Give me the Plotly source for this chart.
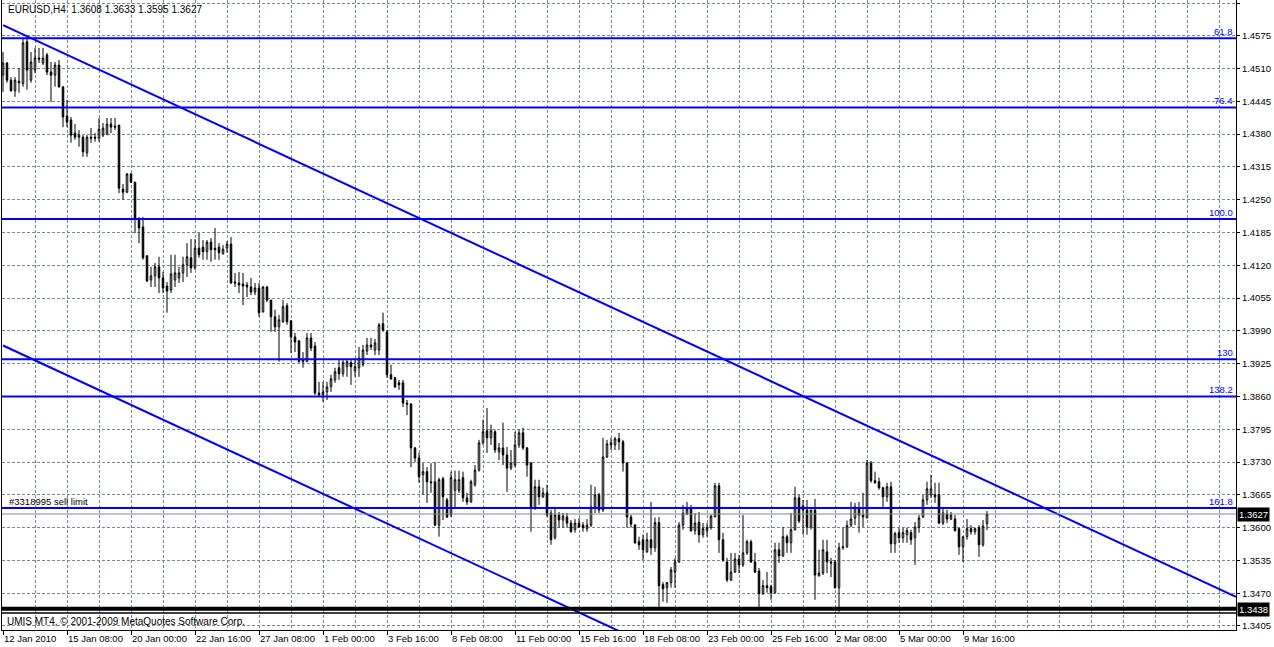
import plotly.graph_objects as go

# ---------------- data (EURUSD, H4) ----------------
opens = [1.4497,1.4521,1.4487,1.4466,1.4485,1.4480,1.4563,1.4487,1.4507,1.4531,1.4521,1.4537,1.4503,1.4497,1.4517,1.4474,1.4416,1.4408,1.4382,1.4374,
1.4374,1.4343,1.4374,1.4374,1.4372,1.4378,1.4380,1.4400,1.4396,1.4398,1.4271,1.4265,1.4301,1.4285,1.4210,1.4196,1.4139,1.4091,1.4099,1.4117,
1.4095,1.4079,1.4071,1.4091,1.4095,1.4105,1.4121,1.4135,1.4115,1.4154,1.4156,1.4147,1.4166,1.4154,1.4156,1.4143,1.4154,1.4162,1.4087,1.4085,
1.4083,1.4081,1.4077,1.4067,1.4075,1.4028,1.4077,1.4051,1.4018,1.3998,1.4008,1.4040,1.4010,1.3978,1.3970,1.3929,1.3929,1.3976,1.3960,1.3867,
1.3863,1.3869,1.3879,1.3893,1.3917,1.3905,1.3919,1.3927,1.3911,1.3917,1.3923,1.3950,1.3962,1.3952,1.3952,1.4004,1.3988,1.3903,1.3897,1.3887,
1.3887,1.3847,1.3845,1.3758,1.3738,1.3705,1.3711,1.3691,1.3691,1.3605,1.3697,1.3655,1.3625,1.3674,1.3674,1.3699,1.3659,1.3651,1.3685,1.3714,
1.3768,1.3792,1.3778,1.3790,1.3750,1.3758,1.3744,1.3718,1.3724,1.3764,1.3788,1.3758,1.3728,1.3639,1.3681,1.3661,1.3669,1.3629,1.3580,1.3625,
1.3615,1.3621,1.3609,1.3596,1.3609,1.3605,1.3598,1.3605,1.3641,1.3665,1.3635,1.3740,1.3764,1.3764,1.3776,1.3770,1.3728,1.3621,1.3605,1.3572,
1.3576,1.3552,1.3576,1.3560,1.3610,1.3487,1.3481,1.3491,1.3512,1.3532,1.3605,1.3627,1.3637,1.3594,1.3611,1.3586,1.3594,1.3600,1.3621,1.3683,
1.3576,1.3532,1.3496,1.3512,1.3538,1.3526,1.3550,1.3572,1.3532,1.3514,1.3469,1.3485,1.3483,1.3471,1.3556,1.3544,1.3582,1.3570,1.3596,1.3659,
1.3643,1.3635,1.3601,1.3635,1.3504,1.3510,1.3552,1.3532,1.3532,1.3481,1.3560,1.3562,1.3605,1.3619,1.3637,1.3625,1.3619,1.3728,1.3693,1.3691,
1.3679,1.3661,1.3681,1.3568,1.3590,1.3580,1.3586,1.3590,1.3580,1.3601,1.3621,1.3655,1.3665,1.3665,1.3665,1.3609,1.3627,1.3617,1.3617,1.3598,
1.3562,1.3582,1.3598,1.3592,1.3600,1.3566,1.3608]
highs = [1.4543,1.4523,1.4493,1.4493,1.4511,1.4571,1.4571,1.4543,1.4551,1.4551,1.4551,1.4541,1.4523,1.4523,1.4527,1.4474,1.4448,1.4414,1.4400,1.4388,
1.4378,1.4378,1.4392,1.4382,1.4412,1.4402,1.4412,1.4412,1.4412,1.4398,1.4281,1.4303,1.4303,1.4285,1.4216,1.4216,1.4139,1.4117,1.4125,1.4137,
1.4107,1.4087,1.4141,1.4141,1.4117,1.4137,1.4164,1.4172,1.4172,1.4184,1.4170,1.4170,1.4174,1.4194,1.4164,1.4160,1.4168,1.4176,1.4105,1.4107,
1.4105,1.4087,1.4095,1.4085,1.4085,1.4079,1.4079,1.4051,1.4032,1.4022,1.4051,1.4045,1.4010,1.3986,1.3972,1.3948,1.3986,1.3986,1.3968,1.3889,
1.3889,1.3889,1.3903,1.3917,1.3932,1.3932,1.3934,1.3932,1.3936,1.3958,1.3962,1.3976,1.3976,1.3974,1.4006,1.4026,1.3992,1.3923,1.3899,1.3893,
1.3893,1.3853,1.3847,1.3760,1.3748,1.3728,1.3720,1.3728,1.3730,1.3699,1.3701,1.3659,1.3711,1.3713,1.3713,1.3711,1.3669,1.3695,1.3724,1.3774,
1.3814,1.3837,1.3804,1.3794,1.3768,1.3808,1.3760,1.3754,1.3790,1.3794,1.3798,1.3760,1.3730,1.3695,1.3695,1.3679,1.3685,1.3635,1.3641,1.3631,
1.3629,1.3629,1.3615,1.3617,1.3619,1.3611,1.3617,1.3685,1.3681,1.3669,1.3778,1.3774,1.3778,1.3780,1.3788,1.3774,1.3730,1.3625,1.3607,1.3582,
1.3586,1.3590,1.3651,1.3620,1.3621,1.3492,1.3492,1.3522,1.3540,1.3611,1.3645,1.3651,1.3645,1.3629,1.3631,1.3609,1.3609,1.3625,1.3689,1.3689,
1.3590,1.3540,1.3550,1.3550,1.3546,1.3625,1.3576,1.3576,1.3550,1.3520,1.3496,1.3512,1.3487,1.3570,1.3570,1.3601,1.3586,1.3629,1.3681,1.3665,
1.3655,1.3655,1.3635,1.3657,1.3556,1.3576,1.3576,1.3540,1.3536,1.3570,1.3600,1.3614,1.3651,1.3649,1.3651,1.3669,1.3734,1.3732,1.3711,1.3699,
1.3681,1.3689,1.3691,1.3592,1.3600,1.3600,1.3600,1.3596,1.3611,1.3625,1.3665,1.3691,1.3705,1.3689,1.3689,1.3639,1.3635,1.3631,1.3625,1.3600,
1.3582,1.3617,1.3605,1.3600,1.3605,1.3615,1.3633]
lows = [1.4464,1.4482,1.4464,1.4454,1.4462,1.4474,1.4468,1.4482,1.4501,1.4521,1.4517,1.4497,1.4444,1.4474,1.4472,1.4394,1.4394,1.4363,1.4369,1.4355,
1.4335,1.4335,1.4363,1.4365,1.4365,1.4374,1.4378,1.4382,1.4388,1.4263,1.4250,1.4263,1.4283,1.4184,1.4164,1.4131,1.4087,1.4077,1.4077,1.4065,
1.4065,1.4026,1.4065,1.4077,1.4085,1.4087,1.4097,1.4105,1.4111,1.4135,1.4131,1.4131,1.4127,1.4131,1.4131,1.4141,1.4145,1.4083,1.4077,1.4065,
1.4041,1.4057,1.4061,1.4061,1.4018,1.4026,1.4047,1.3988,1.3988,1.3929,1.4006,1.4002,1.3946,1.3948,1.3927,1.3917,1.3929,1.3950,1.3863,1.3861,
1.3849,1.3853,1.3869,1.3887,1.3893,1.3899,1.3899,1.3883,1.3899,1.3899,1.3919,1.3942,1.3952,1.3942,1.3942,1.3988,1.3897,1.3893,1.3877,1.3873,
1.3839,1.3823,1.3720,1.3730,1.3689,1.3665,1.3649,1.3669,1.3603,1.3582,1.3615,1.3619,1.3621,1.3639,1.3669,1.3651,1.3645,1.3649,1.3681,1.3711,
1.3764,1.3748,1.3764,1.3748,1.3734,1.3724,1.3671,1.3714,1.3720,1.3758,1.3754,1.3701,1.3592,1.3635,1.3645,1.3659,1.3621,1.3566,1.3576,1.3600,
1.3600,1.3600,1.3590,1.3590,1.3600,1.3592,1.3592,1.3601,1.3629,1.3629,1.3631,1.3738,1.3754,1.3754,1.3754,1.3711,1.3600,1.3600,1.3568,1.3556,
1.3536,1.3550,1.3546,1.3552,1.3443,1.3453,1.3451,1.3481,1.3481,1.3530,1.3596,1.3625,1.3592,1.3586,1.3570,1.3580,1.3582,1.3596,1.3621,1.3550,
1.3532,1.3492,1.3494,1.3510,1.3510,1.3522,1.3546,1.3530,1.3510,1.3443,1.3467,1.3471,1.3457,1.3469,1.3530,1.3542,1.3550,1.3550,1.3594,1.3609,
1.3586,1.3586,1.3596,1.3457,1.3504,1.3506,1.3510,1.3502,1.3479,1.3433,1.3556,1.3560,1.3601,1.3605,1.3590,1.3601,1.3619,1.3689,1.3687,1.3675,
1.3641,1.3651,1.3550,1.3550,1.3570,1.3570,1.3570,1.3566,1.3526,1.3590,1.3619,1.3645,1.3659,1.3649,1.3607,1.3605,1.3609,1.3615,1.3592,1.3546,
1.3532,1.3576,1.3586,1.3586,1.3542,1.3562,1.3595]
closes = [1.4521,1.4487,1.4466,1.4487,1.4482,1.4561,1.4507,1.4523,1.4531,1.4529,1.4531,1.4503,1.4497,1.4517,1.4474,1.4414,1.4404,1.4378,1.4374,1.4378,
1.4345,1.4374,1.4372,1.4372,1.4390,1.4392,1.4400,1.4394,1.4394,1.4273,1.4265,1.4301,1.4285,1.4214,1.4194,1.4135,1.4089,1.4099,1.4117,1.4095,
1.4075,1.4069,1.4103,1.4105,1.4105,1.4121,1.4137,1.4115,1.4154,1.4141,1.4147,1.4166,1.4151,1.4151,1.4145,1.4152,1.4162,1.4085,1.4085,1.4081,
1.4079,1.4077,1.4067,1.4075,1.4026,1.4077,1.4051,1.4018,1.3998,1.4012,1.4038,1.4008,1.3978,1.3968,1.3929,1.3932,1.3976,1.3956,1.3867,1.3863,
1.3869,1.3879,1.3895,1.3909,1.3905,1.3927,1.3929,1.3919,1.3919,1.3936,1.3952,1.3962,1.3958,1.3966,1.4002,1.3992,1.3903,1.3895,1.3879,1.3883,
1.3847,1.3845,1.3758,1.3738,1.3701,1.3711,1.3691,1.3689,1.3605,1.3695,1.3661,1.3621,1.3699,1.3695,1.3695,1.3659,1.3651,1.3691,1.3714,1.3768,
1.3790,1.3778,1.3792,1.3754,1.3758,1.3744,1.3718,1.3728,1.3764,1.3788,1.3758,1.3724,1.3639,1.3681,1.3661,1.3669,1.3625,1.3576,1.3625,1.3615,
1.3623,1.3609,1.3592,1.3609,1.3601,1.3600,1.3605,1.3641,1.3665,1.3635,1.3740,1.3766,1.3768,1.3776,1.3770,1.3728,1.3621,1.3607,1.3570,1.3566,
1.3556,1.3576,1.3560,1.3610,1.3485,1.3479,1.3491,1.3516,1.3532,1.3605,1.3629,1.3637,1.3594,1.3609,1.3586,1.3598,1.3600,1.3623,1.3683,1.3576,
1.3536,1.3496,1.3512,1.3538,1.3526,1.3550,1.3572,1.3532,1.3512,1.3469,1.3485,1.3481,1.3471,1.3556,1.3544,1.3582,1.3570,1.3596,1.3659,1.3613,
1.3635,1.3601,1.3635,1.3506,1.3510,1.3556,1.3532,1.3530,1.3481,1.3560,1.3562,1.3604,1.3617,1.3641,1.3625,1.3621,1.3728,1.3693,1.3689,1.3679,
1.3661,1.3681,1.3568,1.3588,1.3580,1.3590,1.3594,1.3576,1.3601,1.3619,1.3655,1.3677,1.3677,1.3661,1.3609,1.3629,1.3617,1.3625,1.3594,1.3562,
1.3582,1.3598,1.3592,1.3598,1.3566,1.3603,1.3627]
bars = list(range(len(opens)))

date_label_bars = [0, 16, 32, 48, 64, 80, 96, 112, 128, 144, 160, 176, 192, 208, 224, 240]
date_labels = ["12 Jan 2010", "15 Jan 08:00", "20 Jan 00:00", "22 Jan 16:00", "27 Jan 08:00",
               "1 Feb 00:00", "3 Feb 16:00", "8 Feb 08:00", "11 Feb 00:00", "15 Feb 16:00",
               "18 Feb 08:00", "23 Feb 00:00", "25 Feb 16:00", "2 Mar 08:00", "5 Mar 00:00",
               "9 Mar 16:00"]
grid_bars = [8, 24, 40, 56, 72, 88, 104, 120, 136, 152, 168, 184, 200, 216, 232, 248,
             256, 264, 272, 280, 288, 296, 304]
price_ticks = [1.3405, 1.3470, 1.3535, 1.3600, 1.3665, 1.3730, 1.3795, 1.3860, 1.3925, 1.3990,
               1.4055, 1.4120, 1.4185, 1.4250, 1.4315, 1.4380, 1.4445, 1.4510, 1.4575, 1.4640]

fib_levels = [1.4570, 1.4433, 1.4212, 1.3934, 1.3860, 1.3639]
fib_labels = ["61.8", "76.4", "100.0", "130", "138.2", "161.8"]

upper_trend_x = [0, 308.25]
upper_trend_y = [1.4596, 1.3463]
lower_trend_x = [0, 160]
lower_trend_y = [1.3961, 1.3373]

order_levels = [1.3439, 1.3431]
order_widths = [4, 1.5]
order_label = "#3318995 sell limit"
order_box_price = 1.3438

X_RANGE = [-0.25, 308.25]
Y_RANGE = [1.339706, 1.464595]

FONT = "Liberation Sans, Arial, sans-serif"
GRID = "#778899"
BLUE = "#0000FF"

fig = go.Figure()

fig.add_trace(go.Candlestick(
    x=bars, open=opens, high=highs, low=lows, close=closes,
    increasing=dict(line=dict(color="black", width=1), fillcolor="white"),
    decreasing=dict(line=dict(color="black", width=1), fillcolor="black"),
    whiskerwidth=0, hoverinfo="skip", showlegend=False,
))

# trend lines
fig.add_trace(go.Scatter(x=upper_trend_x, y=upper_trend_y, mode="lines",
                         line=dict(color=BLUE, width=2), hoverinfo="skip", showlegend=False))
fig.add_trace(go.Scatter(x=lower_trend_x, y=lower_trend_y, mode="lines",
                         line=dict(color=BLUE, width=2), hoverinfo="skip", showlegend=False))

shapes = []
for lv in fib_levels:
    shapes.append(dict(type="line", xref="paper", x0=0, x1=1, yref="y", y0=lv, y1=lv,
                       line=dict(color=BLUE, width=2), layer="above"))
# bid line
shapes.append(dict(type="line", xref="paper", x0=0, x1=1, yref="y", y0=closes[-1], y1=closes[-1],
                   line=dict(color=GRID, width=1), layer="above"))
for lv, w in zip(order_levels, order_widths):
    shapes.append(dict(type="line", xref="paper", x0=0, x1=1, yref="y", y0=lv, y1=lv,
                       line=dict(color="black", width=w), layer="above"))

annotations = []
annotations.append(dict(
    xref="paper", yref="paper", x=0, y=1, xanchor="left", yanchor="top", xshift=4, yshift=-2,
    text=f"EURUSD,H4  {opens[-1]:.4f} {highs[-1]:.4f} {lows[-1]:.4f} {closes[-1]:.4f}",
    showarrow=False, font=dict(family=FONT, size=10, color="black")))
for lv, lab in zip(fib_levels, fib_labels):
    annotations.append(dict(xref="paper", yref="y", x=1, y=lv, xanchor="right", yanchor="bottom",
                            xshift=-1, yshift=-1, text=lab, showarrow=False,
                            font=dict(family=FONT, size=9.5, color=BLUE)))
annotations.append(dict(xref="paper", yref="y", x=0, y=fib_levels[-1], xanchor="left", yanchor="bottom",
                        xshift=5, yshift=-1, text=order_label, showarrow=False,
                        font=dict(family=FONT, size=9.5, color="black")))
annotations.append(dict(xref="paper", yref="paper", x=0, y=0, xanchor="left", yanchor="bottom",
                        xshift=3, yshift=1, text="UMIS MT4, © 2001-2009 MetaQuotes Software Corp.",
                        showarrow=False, font=dict(family=FONT, size=10, color="black")))
for p in [closes[-1], order_box_price]:
    annotations.append(dict(xref="paper", yref="y", x=1, y=p, xanchor="left", yanchor="middle",
                            xshift=1, text=f"{p:.4f}", showarrow=False, bgcolor="black", borderpad=1,
                            font=dict(family=FONT, size=9.5, color="white")))

fig.update_layout(
    width=1274, height=647,
    margin=dict(l=2, r=38, t=0, b=17, pad=0, autoexpand=False),
    paper_bgcolor="white", plot_bgcolor="white",
    showlegend=False, boxgap=0.45,
    shapes=shapes, annotations=annotations,
    xaxis=dict(
        range=X_RANGE, fixedrange=True, automargin=False,
        tickmode="array", tickvals=date_label_bars, ticktext=date_labels,
        ticks="outside", ticklen=4, tickcolor="black", tickwidth=1, tickangle=0,
        ticklabelposition="outside right",
        tickfont=dict(family=FONT, size=9.5, color="black"),
        showgrid=True, gridcolor=GRID, gridwidth=1, griddash="3px,2px",
        minor=dict(tickmode="array", tickvals=grid_bars, showgrid=True, gridcolor=GRID,
                   gridwidth=1, griddash="3px,2px", ticks=""),
        showline=True, linecolor="black", linewidth=1, mirror=False,
        zeroline=False, rangeslider=dict(visible=False),
    ),
    yaxis=dict(
        range=Y_RANGE, side="right", fixedrange=True, automargin=False,
        tickmode="array", tickvals=price_ticks, ticktext=[f"{v:.4f}" for v in price_ticks],
        ticks="outside", ticklen=3, tickcolor="black", tickwidth=1,
        tickfont=dict(family=FONT, size=9.5, color="black"),
        showgrid=True, gridcolor=GRID, gridwidth=1, griddash="3px,2px",
        showline=True, linecolor="black", linewidth=1, mirror=True,
        zeroline=False,
    ),
)

fig.write_html("out.html", config={"displayModeBar": False},
               post_script="document.body.style.margin='0';document.body.style.padding='0';document.body.style.overflow='hidden';")
